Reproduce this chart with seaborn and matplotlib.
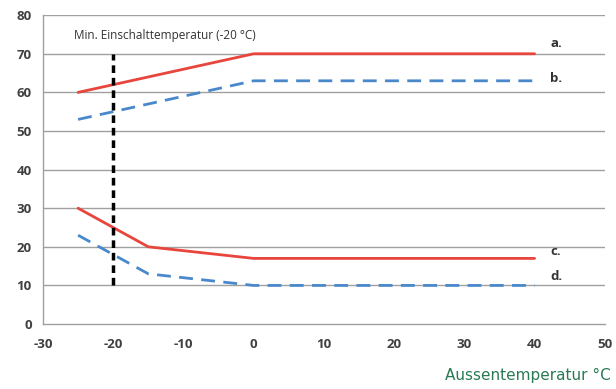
import matplotlib
matplotlib.use("Agg")
import matplotlib.pyplot as plt
import seaborn as sns
import pandas as pd

# Flow temperature curves vs. outdoor temperature
x_ab = [-25, 0, 40]
a_vals = [60, 70, 70]
b_vals = [53, 63, 63]
x_cd = [-25, -15, 0, 40]
c_vals = [30, 20, 17, 17]
d_vals = [23, 13, 10, 10]
min_temp = -20
min_line = [10, 70]
series_labels = ["a.", "b.", "c.", "d."]
x_ticks = [-30, -20, -10, 0, 10, 20, 30, 40, 50]
y_ticks = [0, 10, 20, 30, 40, 50, 60, 70, 80]

sns.set_theme(style="white")
plt.rcParams["font.family"] = ["Open Sans", "DejaVu Sans"]
plt.rcParams["axes.unicode_minus"] = False

fig = plt.figure(figsize=(6.16, 3.89), dpi=100)
ax = fig.add_axes([0.0698, 0.167, 0.912, 0.794])

red = "#e8453c"
blue = "#4a88cc"

df_a = pd.DataFrame({"x": x_ab, "y": a_vals})
df_b = pd.DataFrame({"x": x_ab, "y": b_vals})
df_c = pd.DataFrame({"x": x_cd, "y": c_vals})
df_d = pd.DataFrame({"x": x_cd, "y": d_vals})

for ygrid in y_ticks[1:]:
    ax.axhline(ygrid, color="#a0a0a0", lw=1.0, zorder=0)

sns.lineplot(data=df_a, x="x", y="y", ax=ax, color=red, lw=2.0, sort=False)
sns.lineplot(data=df_c, x="x", y="y", ax=ax, color=red, lw=2.0, sort=False)
sns.lineplot(data=df_b, x="x", y="y", ax=ax, color=blue, lw=2.0, sort=False)
ax.lines[-1].set_dashes((5, 3))
sns.lineplot(data=df_d, x="x", y="y", ax=ax, color=blue, lw=2.0, sort=False)
ax.lines[-1].set_dashes((5, 3))

ax.plot([min_temp, min_temp], min_line, color="black", lw=2.5, dashes=(2.2, 1.4), zorder=5)
ax.text(-25.6, 74.8, "Min. Einschalttemperatur (-20 °C)", fontsize=8.5, color="#333333",
        va="center", ha="left")

label_y = [72.6, 63.5, 18.8, 12.2]
for lab, yy in zip(series_labels, label_y):
    ax.text(42.2, yy, lab, fontsize=9.5, fontweight="bold", color="#333333",
            va="center", ha="left")

ax.set_xlim(-30, 50)
ax.set_ylim(0, 80)
ax.set_xticks(x_ticks)
ax.set_yticks(y_ticks)
ax.set_xlabel("")
ax.set_ylabel("")
for s in ["top", "right"]:
    ax.spines[s].set_visible(False)
for s in ["left", "bottom"]:
    ax.spines[s].set_color("#a0a0a0")
    ax.spines[s].set_linewidth(1.0)
ax.tick_params(axis="both", which="both", direction="out", length=5, width=1,
               color="#a0a0a0", labelsize=9.5, labelcolor="#404040", pad=3)
ax.tick_params(axis="x", length=4, pad=6)
for lbl in ax.get_xticklabels() + ax.get_yticklabels():
    lbl.set_fontweight("bold")

fig.text(0.992, 0.034, "Aussentemperatur °C", fontsize=11, color="#2a7a55",
         ha="right", va="center", family=["DejaVu Sans"])

fig.savefig("out.png", dpi=100)
